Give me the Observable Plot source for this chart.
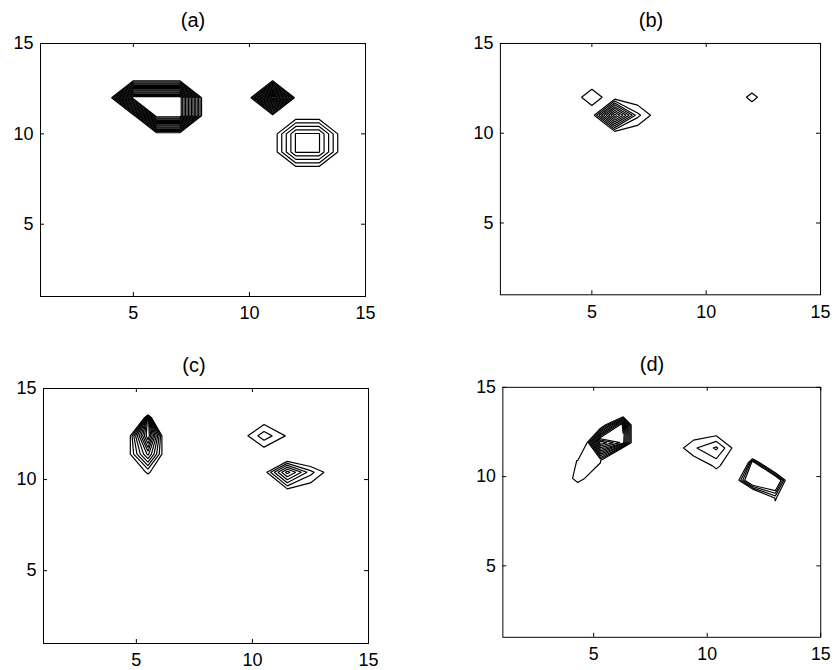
<!DOCTYPE html>
<html><head><meta charset="utf-8">
<script src="https://cdn.jsdelivr.net/npm/d3@7"></script>
<script src="https://cdn.jsdelivr.net/npm/@observablehq/plot@0.6"></script>
<style>
html,body{margin:0;padding:0;background:#fff;overflow:hidden}
#fig{position:relative;width:835px;height:670px;overflow:hidden;background:#fff;font-family:"Liberation Sans",Arial,Helvetica,sans-serif;color:#000}
.title{position:absolute;font-size:20px;transform:translateX(-50%);white-space:nowrap;line-height:1}
.panel{position:absolute}
</style></head><body><div id="fig"></div>
<script>
// ---------------- data ----------------
const panelTitles = ["(a)", "(b)", "(c)", "(d)"];
const xTicks = [5, 10, 15];
const yTicks = [5, 10, 15];
const levels15 = [1, 2, 3, 4, 5, 6, 7, 8, 9, 10, 11, 12, 13, 14, 15];
const levels10 = [1, 2, 3, 4, 5, 6, 7, 8, 9, 10];
const levels11 = [1, 2, 3, 4, 5, 6, 7, 8, 9, 10, 11];
const levels4 = [1, 2, 3, 4];
const gridSize = 16;
// position (x, y) of the first grid sample of each field
const originA = [0, 0];
const originB = [0, 0];
const originC = [0.5, 0.4];
const originDLeft = [0.3, 0.9];
const originDMiddle = [0.4, 0.6];
const originDRight = [0, 0.8];
// non-zero grid samples [x, y, value]; every other sample of a field is 0
const samplesA = [
  [5, 12, 16], [6, 12, 16], [7, 12, 16], [6, 11, 16], [7, 11, 16],
  [11, 12, 16],
  [12, 9, 5.1], [13, 9, 5.1], [12, 10, 5.1], [13, 10, 5.1]
];
const samplesB = [
  [6, 11, 9.6], [7, 11, 2.3],
  [5, 12, 1.82],
  [12, 12, 1.32]
];
const samplesC = [
  [5.5, 13.4, 11.5], [5.5, 14.4, -60], [4.5, 13.4, -60], [6.5, 13.4, -60],
  [5.5, 12.4, 11], [5.5, 11.4, 6.3], [5.5, 10.4, 1.1],
  [4.5, 12.4, -2.16], [6.5, 12.4, -5.67], [4.5, 11.4, -0.67], [6.5, 11.4, -2.53],
  [10.5, 12.4, 2.63], [9.5, 12.4, 0.3], [11.5, 12.4, 0.85],
  [11.5, 10.4, 6.5], [10.5, 10.4, 0.25], [11.5, 9.4, 0.46], [11.5, 11.4, -2.67],
  [12.5, 10.4, 2.4], [12.5, 11.4, -2]
];
const samplesDLeft = [
  [5.3, 11.9, 12], [6.3, 11.9, 8.5], [6.3, 12.9, 9.5],
  [4.3, 11.9, -6.6], [7.3, 11.9, -12.9], [7.3, 12.9, -14.8], [6.3, 13.9, -9.4], [5.3, 12.9, -1.5],
  [6.3, 10.9, -19.3], [5.3, 10.9, 1.1], [4.3, 10.9, 1.05], [4.3, 9.9, 1.3], [5.3, 9.9, 0.3]
];
const samplesDMiddle = [
  [10.4, 11.6, 3.2], [9.4, 11.6, 1.8], [10.4, 10.6, 1.2]
];
const samplesDRight = [
  [12, 9.8, 8], [13, 9.8, 8], [11, 9.8, -3.5], [14, 9.8, -7.9],
  [12, 10.8, 4.9], [11, 10.8, -16.8], [12, 11.8, -14.6], [13, 10.8, -9],
  [13, 8.8, 1.2], [12, 8.8, -6], [14, 8.8, -3]
];

// ---------------- layout ----------------
const layout = [
  {left: 40, top: 43, right: 365, bottom: 296, tx: 193, ty: 10},
  {left: 500, top: 43, right: 821, bottom: 295, tx: 651, ty: 10},
  {left: 43, top: 388, right: 368, bottom: 643, tx: 194, ty: 355},
  {left: 503, top: 387, right: 826, bottom: 641, tx: 652, ty: 354}
];
const panels = [
  [{samples: samplesA, origin: originA, levels: levels15}],
  [{samples: samplesB, origin: originB, levels: levels10}],
  [{samples: samplesC, origin: originC, levels: levels10}],
  [
    {samples: samplesDLeft, origin: originDLeft, levels: levels11},
    {samples: samplesDMiddle, origin: originDMiddle, levels: levels10},
    {samples: samplesDRight, origin: originDRight, levels: levels4}
  ]
];

function buildGrid(samples, [ox, oy]) {
  const g = new Array(gridSize * gridSize).fill(0);
  for (const [x, y, v] of samples) {
    const i = Math.round(x - ox), j = Math.round(y - oy);
    g[i + j * gridSize] = v;
  }
  return g;
}

const lineWidth = 1.2;
function contourMark({samples, origin, levels}) {
  const [ox, oy] = origin;
  const grid = buildGrid(samples, origin);
  const x1 = ox - 0.5, x2 = ox + gridSize - 0.5, y1 = oy - 0.5, y2 = oy + gridSize - 0.5;
  if (typeof Plot.contour === "function") {
    return Plot.contour(grid, {
      width: gridSize, height: gridSize, x1, x2, y1, y2,
      value: (d) => d, thresholds: levels,
      fill: "none", stroke: "black", strokeWidth: lineWidth
    });
  }
  const pts = [];
  d3.contours().size([gridSize, gridSize]).thresholds(levels)(grid).forEach((mp, li) => {
    mp.coordinates.forEach((poly, pi) => poly.forEach((ring, ri) => {
      const id = li + "-" + pi + "-" + ri;
      ring.forEach(([cx, cy]) => pts.push({x: x1 + cx, y: y1 + cy, id}));
    }));
  });
  return Plot.line(pts, {x: "x", y: "y", z: "id", stroke: "black", strokeWidth: lineWidth});
}

const fig = document.getElementById("fig");
const mL = 40, mT = 10, mR = 15, mB = 40;

panels.forEach((fields, k) => {
  const L = layout[k];
  const innerW = L.right - L.left, innerH = L.bottom - L.top;
  const chart = Plot.plot({
    width: innerW + mL + mR,
    height: innerH + mT + mB,
    marginLeft: mL, marginRight: mR, marginTop: mT, marginBottom: mB,
    x: {domain: [1, 15]},
    y: {domain: [1, 15]},
    style: {fontFamily: '"Liberation Sans", Arial, Helvetica, sans-serif', color: "black", background: "transparent", overflow: "visible"},
    marks: [
      ...fields.map(contourMark),
      Plot.frame({stroke: "black", strokeWidth: 1}),
      Plot.tickX(xTicks, {x: (d) => d, stroke: "black", insetTop: innerH - 4}),
      Plot.tickX(xTicks, {x: (d) => d, stroke: "black", insetBottom: innerH - 4}),
      Plot.tickY(yTicks, {y: (d) => d, stroke: "black", insetRight: innerW - 4}),
      Plot.tickY(yTicks, {y: (d) => d, stroke: "black", insetLeft: innerW - 4}),
      Plot.axisX(xTicks, {anchor: "bottom", tickSize: 0, tickPadding: 10, fontSize: 18}),
      Plot.axisY(yTicks, {anchor: "left", tickSize: 0, tickPadding: 7, fontSize: 18})
    ]
  });
  const wrap = document.createElement("div");
  wrap.className = "panel";
  wrap.style.left = (L.left - mL) + "px";
  wrap.style.top = (L.top - mT) + "px";
  wrap.appendChild(chart);
  fig.appendChild(wrap);
  const t = document.createElement("div");
  t.className = "title";
  t.textContent = panelTitles[k];
  t.style.left = L.tx + "px";
  t.style.top = L.ty + "px";
  fig.appendChild(t);
});
</script></body></html>
